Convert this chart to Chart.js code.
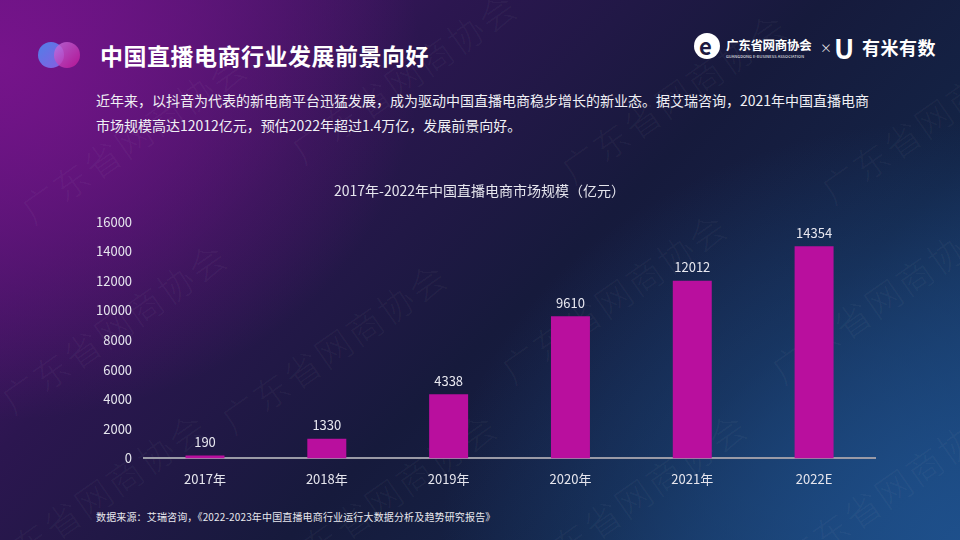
<!DOCTYPE html>
<html>
<head>
<meta charset="utf-8">
<script src="https://cdn.jsdelivr.net/npm/chart.js@4.4.0/dist/chart.umd.min.js"></script>
<style>
  html,body{margin:0;padding:0;}
  body{width:960px;height:540px;overflow:hidden;position:relative;
    font-family:"Noto Sans CJK SC","Noto Sans",sans-serif;
    background:
      radial-gradient(ellipse 420px 360px at 0px 60px, rgba(120,20,140,0.95), rgba(120,20,140,0) 100%),
      radial-gradient(ellipse 520px 420px at 960px 540px, rgba(30,80,140,0.95), rgba(30,80,140,0) 100%),
      linear-gradient(135deg,#5a137a 0%,#2c1650 30%,#161a3c 55%,#132446 75%,#1a4272 100%);
  }
  .wm{position:absolute;color:rgba(255,255,255,0.045);font-size:36px;font-weight:300;transform:rotate(-35deg);white-space:nowrap;letter-spacing:2px;pointer-events:none;}
  #title{position:absolute;left:100px;top:38px;color:#fff;font-size:23px;font-weight:bold;letter-spacing:0.5px;}
  .c1{position:absolute;left:38px;top:42px;width:26px;height:26px;border-radius:50%;background:linear-gradient(135deg,#4f7fe8,#8a5ce0);}
  .c2{position:absolute;left:54px;top:42px;width:26px;height:26px;border-radius:50%;background:linear-gradient(135deg,rgba(200,120,230,0.75),rgba(190,20,150,0.85));}
  .para{position:absolute;left:96px;color:#f0f0f5;font-size:14px;white-space:nowrap;}
  #src{position:absolute;left:96px;top:509px;color:#e8e8ee;font-size:10px;white-space:nowrap;letter-spacing:0.15px;}
  #chartbox{position:absolute;left:0;top:176px;width:960px;height:324px;}
  .logo1{position:absolute;left:694px;top:33px;width:26px;height:26px;border-radius:50%;background:#fff;}
  .logo1 span{position:absolute;left:5px;top:-4px;font-size:22px;font-weight:bold;color:#1e1a40;}
  .lt{position:absolute;left:726px;top:35px;color:#fff;font-size:12.5px;font-weight:bold;letter-spacing:-0.3px;white-space:nowrap;}
  .ls{position:absolute;left:726px;top:53px;color:#fff;font-size:4px;white-space:nowrap;letter-spacing:0.1px;}
  .x{position:absolute;left:820px;top:39px;color:#ddd;font-size:12px;}
  .u{position:absolute;left:834px;top:28px;color:#fff;font-size:27px;font-weight:bold;}
  .ym{position:absolute;left:862px;top:34px;color:#fff;font-size:18px;font-weight:bold;white-space:nowrap;letter-spacing:0.5px;}
</style>
</head>
<body>
<div class="wm" style="left:0px;top:110px;">广东省网商协会</div>
<div class="wm" style="left:270px;top:50px;">广东省网商协会</div>
<div class="wm" style="left:540px;top:70px;">广东省网商协会</div>
<div class="wm" style="left:800px;top:90px;">广东省网商协会</div>
<div class="wm" style="left:-20px;top:300px;">广东省网商协会</div>
<div class="wm" style="left:200px;top:320px;">广东省网商协会</div>
<div class="wm" style="left:480px;top:270px;">广东省网商协会</div>
<div class="wm" style="left:750px;top:270px;">广东省网商协会</div>
<div class="wm" style="left:-40px;top:470px;">广东省网商协会</div>
<div class="wm" style="left:250px;top:470px;">广东省网商协会</div>
<div class="wm" style="left:500px;top:470px;">广东省网商协会</div>
<div class="wm" style="left:760px;top:460px;">广东省网商协会</div>

<div class="c1"></div><div class="c2"></div>
<div id="title">中国直播电商行业发展前景向好</div>
<div class="para" style="top:90px;">近年来，以抖音为代表的新电商平台迅猛发展，成为驱动中国直播电商稳步增长的新业态。据艾瑞咨询，2021年中国直播电商</div>
<div class="para" style="top:115px;">市场规模高达12012亿元，预估2022年超过1.4万亿，发展前景向好。</div>

<div class="logo1"><span>e</span></div>
<div class="lt">广东省网商协会</div>
<div class="ls">GUANGDONG E-BUSINESS ASSOCIATION</div>
<div class="x">×</div>
<div class="u">U</div>
<div class="ym">有米有数</div>

<div id="chartbox"><canvas id="c"></canvas></div>
<div id="src">数据来源：艾瑞咨询，《2022-2023年中国直播电商行业运行大数据分析及趋势研究报告》</div>

<script>
const categories = ["2017年","2018年","2019年","2020年","2021年","2022E"];
const marketSize = [190, 1330, 4338, 9610, 12012, 14354];
const yTicks = [0, 2000, 4000, 6000, 8000, 10000, 12000, 14000, 16000];
const chartTitle = "2017年-2022年中国直播电商市场规模（亿元）";

const FONT = '"Noto Sans CJK SC","Noto Sans",sans-serif';

const valueLabels = {
  id: 'valueLabels',
  afterDatasetsDraw(chart) {
    const ctx = chart.ctx;
    const meta = chart.getDatasetMeta(0);
    ctx.save();
    ctx.fillStyle = '#e8e8f0';
    ctx.font = '13px ' + FONT;
    ctx.textAlign = 'center';
    ctx.textBaseline = 'bottom';
    meta.data.forEach((bar, i) => {
      ctx.fillText(String(chart.data.datasets[0].data[i]), bar.x, bar.y - 7);
    });
    ctx.restore();
  }
};

new Chart(document.getElementById('c'), {
  type: 'bar',
  data: {
    labels: categories,
    datasets: [{
      data: marketSize,
      backgroundColor: '#b90f9e',
      barPercentage: 0.32,
      categoryPercentage: 1.0
    }]
  },
  options: {
    responsive: true,
    maintainAspectRatio: false,
    animation: false,
    layout: { padding: { left: 84, right: 85, top: 0, bottom: 0 } },
    plugins: {
      legend: { display: false },
      tooltip: { enabled: false },
      title: {
        display: true,
        text: chartTitle,
        color: '#e6e6ee',
        font: { family: FONT, size: 14, weight: 'normal' },
        padding: { top: 6, bottom: 23 }
      }
    },
    scales: {
      x: {
        grid: { display: false, drawTicks: false },
        border: { display: true, color: '#9a9aa6', width: 2 },
        ticks: { color: '#e6e6ee', font: { family: FONT, size: 13 }, padding: 13 }
      },
      y: {
        min: 0,
        max: 16000,
        afterBuildTicks(axis) { axis.ticks = yTicks.map(v => ({ value: v })); },
        grid: { display: false, drawTicks: false },
        border: { display: false },
        ticks: { color: '#e6e6ee', font: { family: FONT, size: 13 }, padding: 12, callback: v => String(v) }
      }
    }
  },
  plugins: [valueLabels]
});
</script>
</body>
</html>
